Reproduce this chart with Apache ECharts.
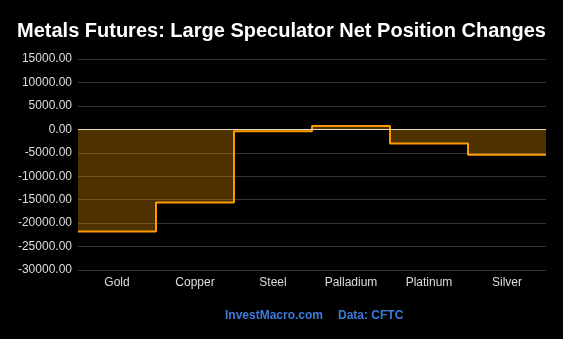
<!DOCTYPE html>
<html><head><meta charset="utf-8">
<script src="https://cdn.jsdelivr.net/npm/echarts@6/dist/echarts.min.js"></script>
<style>html,body{margin:0;padding:0;background:#000}#c{width:563px;height:339px}</style>
</head><body><div id="c"></div>
<script>
const categories = ["Gold", "Copper", "Steel", "Palladium", "Platinum", "Silver"];
const netChanges = [-21800, -15600, -400, 700, -3000, -5400];
const yTicks = { min: -30000, max: 15000, interval: 5000 };

const stepData = netChanges.map((v, i) => [i, v]);
stepData.push([categories.length, netChanges[netChanges.length - 1]]);

const chart = echarts.init(document.getElementById('c'));
chart.setOption({
  backgroundColor: '#000',
  animation: false,
  title: [{
    text: 'Metals Futures: Large Speculator Net Position Changes',
    left: 'center', top: 16,
    textStyle: { color: '#fff', fontSize: 20, fontWeight: 'bold', fontFamily: 'Liberation Sans' }
  }, {
    text: 'InvestMacro.com',
    left: 225, top: 310, padding: 0,
    textStyle: { color: '#3b7ad9', fontSize: 12, fontWeight: 'bold', fontFamily: 'Liberation Sans' }
  }, {
    text: 'Data: CFTC',
    left: 338, top: 310, padding: 0,
    textStyle: { color: '#3b7ad9', fontSize: 12, fontWeight: 'bold', fontFamily: 'Liberation Sans' }
  }],
  grid: { left: 78, right: 17, top: 59, bottom: 69 },
  xAxis: [{
    type: 'category', data: categories, boundaryGap: true, position: 'bottom',
    axisLine: { show: false }, axisTick: { show: false },
    axisLabel: { color: '#ddd', fontSize: 12, fontFamily: 'Liberation Sans', margin: 7 },
    splitLine: { show: false }
  }, {
    type: 'value', min: 0, max: categories.length, show: false
  }],
  yAxis: {
    type: 'value', min: yTicks.min, max: yTicks.max, interval: yTicks.interval,
    axisLine: { show: false }, axisTick: { show: false },
    axisLabel: { color: '#ddd', fontSize: 12, fontFamily: 'Liberation Sans', formatter: v => v.toFixed(2), margin: 6 },
    splitLine: { lineStyle: { color: '#333', width: 1 } }
  },
  series: [{
    type: 'line', xAxisIndex: 1, data: stepData, step: 'end', symbol: 'none',
    lineStyle: { color: '#ff9900', width: 2 },
    areaStyle: { color: 'rgba(255,165,0,0.3)', opacity: 1 },
    markLine: {
      silent: true, symbol: 'none', label: { show: false },
      lineStyle: { color: '#e8dcc0', width: 1, type: 'solid' },
      data: [{ yAxis: 0 }]
    },
    z: 2
  }]
});
</script></body></html>
